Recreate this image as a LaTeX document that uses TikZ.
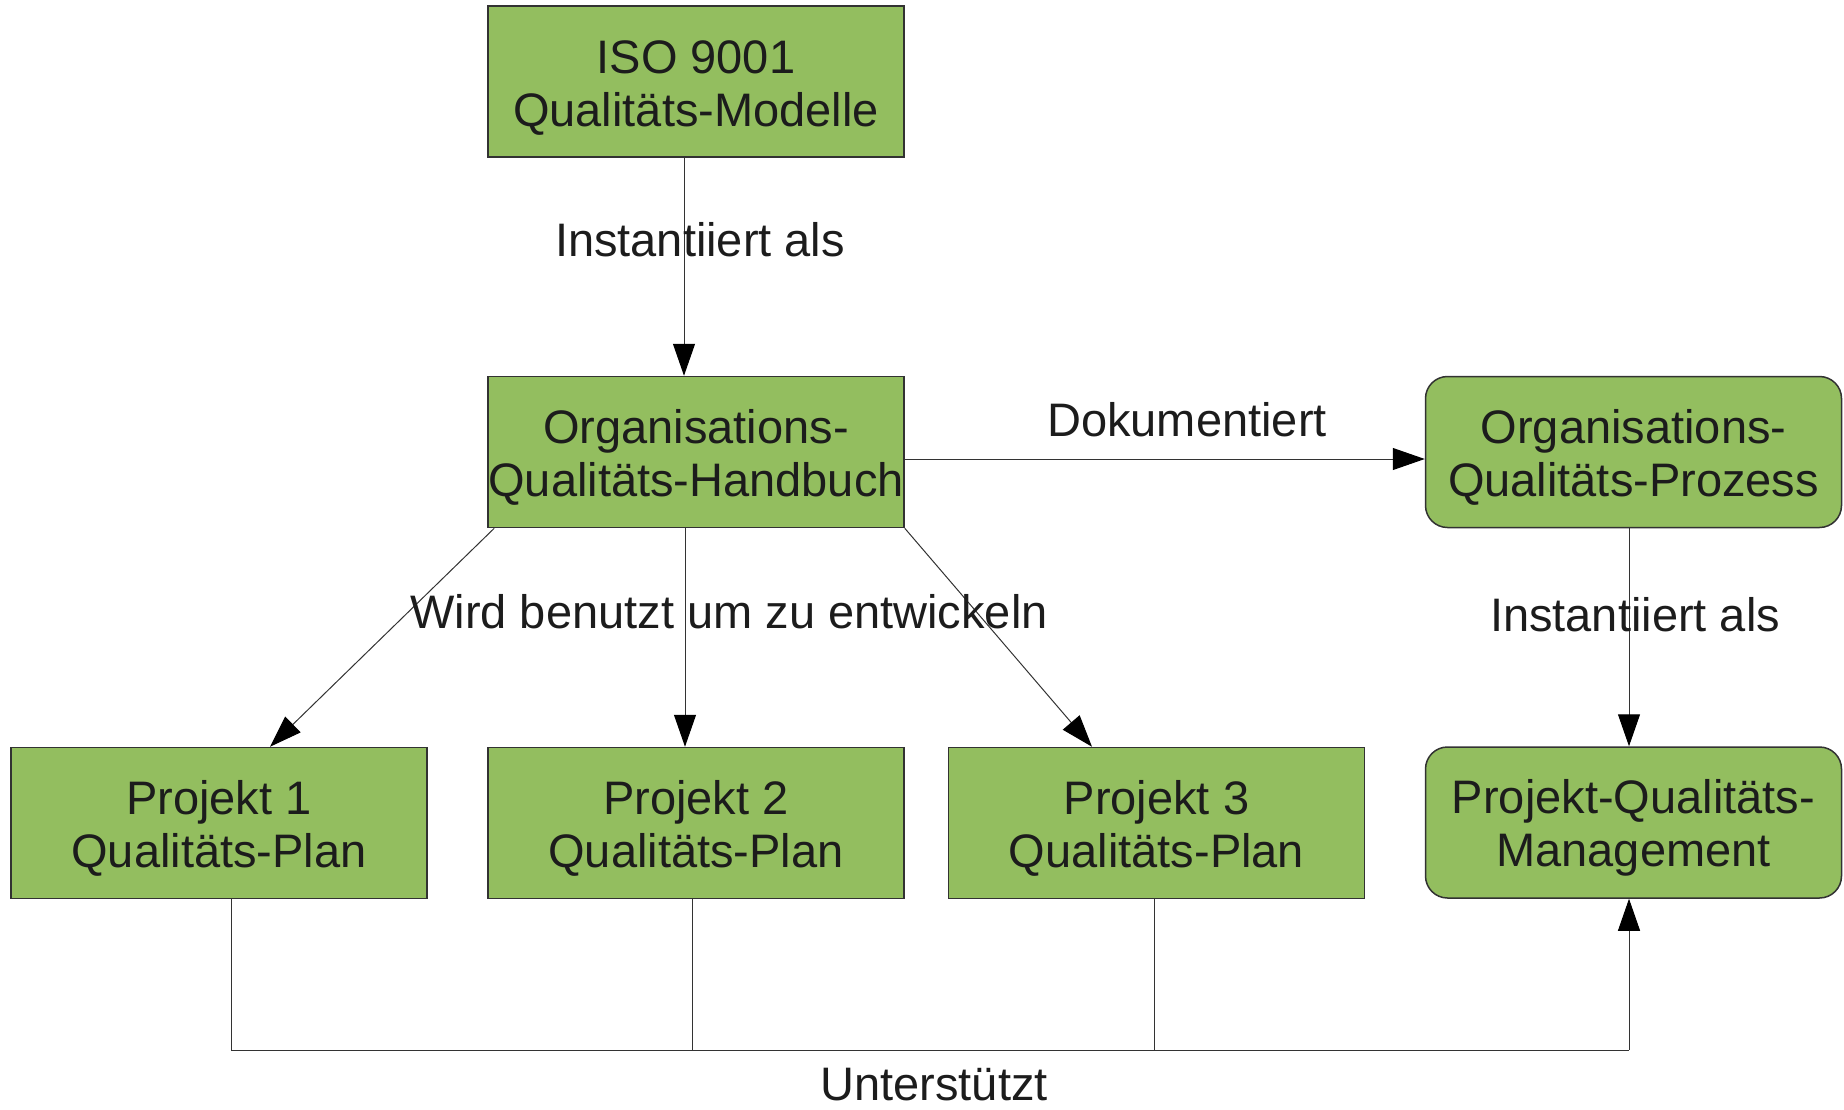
\documentclass[tikz,border=0pt]{standalone}
\usepackage{fontspec}
\setmainfont{Liberation Sans}
\usetikzlibrary{arrows.meta}
\definecolor{boxgreen}{RGB}{147,190,95}
\definecolor{txt}{RGB}{28,28,28}
\definecolor{edge}{RGB}{50,50,50}
\newcommand{\toppad}{\rule{0pt}{45pt}}
\tikzset{
  qbox/.style={draw=edge, line width=1.5pt, fill=boxgreen, minimum width=416pt, minimum height=151pt,
    align=center, inner sep=0pt, text=txt, font=\fontsize{47}{53}\selectfont},
  rbox/.style={qbox, rounded corners=22pt},
  lbl/.style={text=txt, font=\fontsize{47}{53}\selectfont, inner sep=0pt},
  conn/.style={draw=black!80, line width=1pt},
  arr/.style={conn, -{Triangle[length=32pt, width=22pt, color=black]}}
}
\begin{document}
\begin{tikzpicture}[x=1pt, y=-1pt]
\useasboundingbox (0,0) rectangle (1844,1109);
\node[qbox] (iso) at (696,81.5) {\toppad ISO 9001\\Qualitäts-Modelle};
\node[qbox] (hb) at (696,452) {\toppad Organisations-\\Qualitäts-Handbuch};
\node[rbox] (pr) at (1633.5,452) {\toppad Organisations-\\Qualitäts-Prozess};
\node[qbox] (p1) at (219,823) {\toppad Projekt 1\\Qualitäts-Plan};
\node[qbox] (p2) at (696,823) {\toppad Projekt 2\\Qualitäts-Plan};
\node[qbox] (p3) at (1156.5,823) {\toppad Projekt 3\\Qualitäts-Plan};
\node[rbox] (pqm) at (1633.5,822.5) {\toppad Projekt-Qualitäts-\\Management};

\coordinate (bl) at (231,1050);
\coordinate (br) at (1629,1050);

\draw[arr] ([xshift=-12pt]iso.south) -- ([xshift=-12pt]hb.north);
\draw[arr] ([yshift=-7pt]hb.east) -- ([yshift=-7pt]pr.west);
\draw[arr] ([xshift=7pt]hb.south west) -- ([xshift=51pt]p1.north);
\draw[arr] ([xshift=-11pt]hb.south) -- ([xshift=-11pt]p2.north);
\draw[arr] (hb.south east) -- ([xshift=-64.5pt]p3.north);
\draw[arr] ([xshift=-4.5pt]pr.south) -- ([xshift=-4.5pt]pqm.north);
\draw[conn] ([xshift=12pt]p1.south) -- (bl) -- (br);
\draw[conn] ([xshift=-4pt]p2.south) |- (bl);
\draw[conn] ([xshift=-2.5pt]p3.south) |- (br);
\draw[arr] (br) -- ([xshift=-4.5pt]pqm.south);

\node[lbl] (l1) at (700,240) {Instantiiert als};
\node[lbl] (l2) at (1187,420) {Dokumentiert};
\node[lbl] (l3) at (729,612) {Wird benutzt um zu entwickeln};
\node[lbl] (l4) at (1635,615) {Instantiiert als};
\node[lbl] (l5) at (934,1085) {Unterstützt};
\end{tikzpicture}
\end{document}
